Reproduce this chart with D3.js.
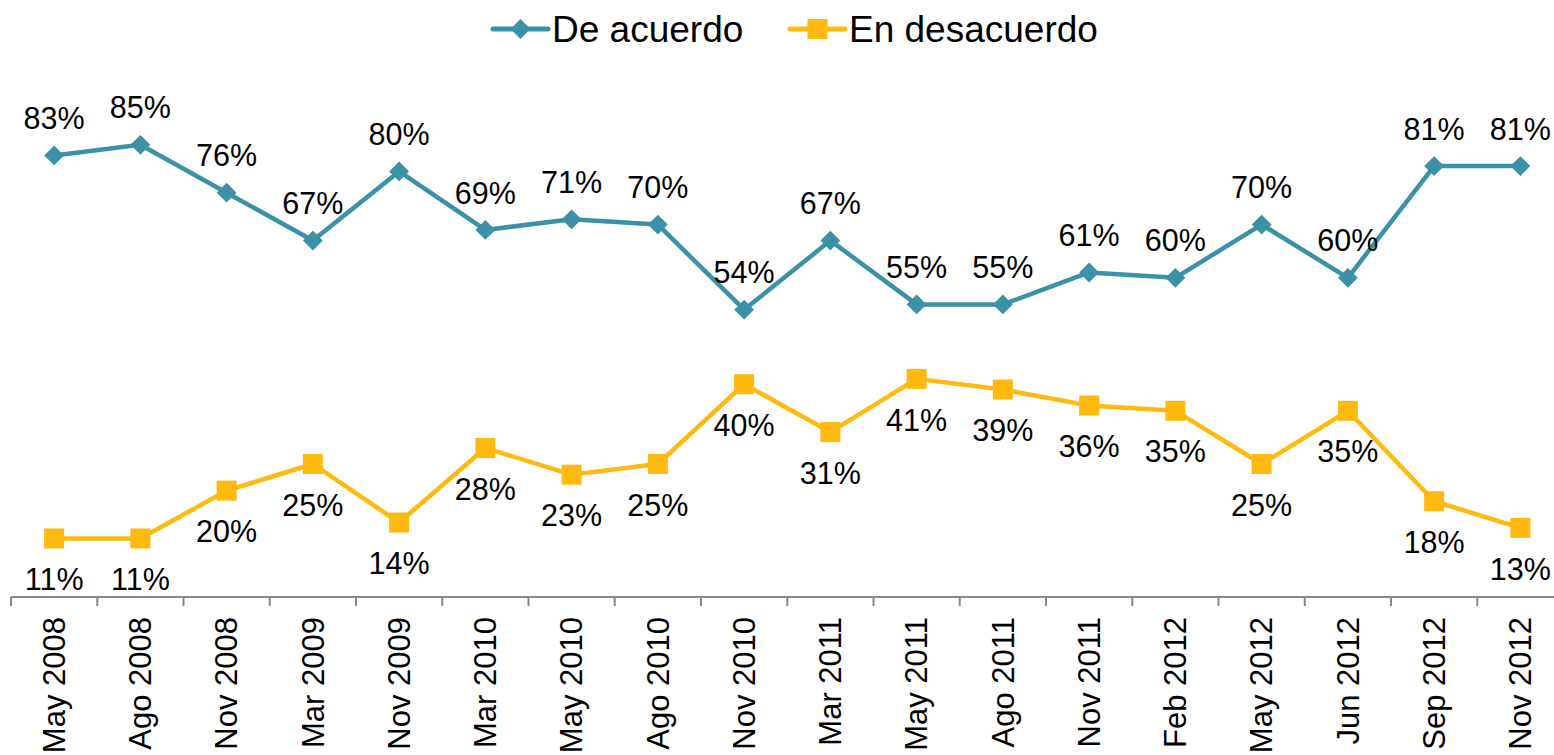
<!DOCTYPE html>
<html>
<head>
<meta charset="utf-8">
<script src="https://cdn.jsdelivr.net/npm/d3@7"></script>
<style>
  body { margin: 0; background: #fff; }
  text { font-family: "Liberation Sans", Arial, sans-serif; }
</style>
</head>
<body>
<div id="chart"></div>
<script>
// categories and series
const categories = ["May 2008", "Ago 2008", "Nov 2008", "Mar 2009", "Nov 2009", "Mar 2010", "May 2010", "Ago 2010", "Nov 2010",
  "Mar 2011", "May 2011", "Ago 2011", "Nov 2011", "Feb 2012", "May 2012", "Jun 2012", "Sep 2012", "Nov 2012"]
const deAcuerdo = [83, 85, 76, 67, 80, 69, 71, 70, 54, 67, 55, 55, 61, 60, 70, 60, 81, 81]
const enDesacuerdo = [11, 11, 20, 25, 14, 28, 23, 25, 40, 31, 41, 39, 36, 35, 25, 35, 18, 13]
const seriesNames = ["De acuerdo", "En desacuerdo"]

const width = 1554, height = 755
const teal = "#3A91A8", yellow = "#FFB90F"

const svg = d3.select("#chart").append("svg")
  .attr("width", width).attr("height", height)

//// scales
let x = d3.scaleBand().domain(categories).range([11, 11 + 18 * 86.25]).padding(0)
let y = d3.scaleLinear().domain([0, 100]).range([597, 65])
let cx = d => x(d) + x.bandwidth() / 2

//// axis line + ticks at band edges
let axisG = svg.append("g")
axisG.append("line")
  .attr("x1", 11).attr("x2", width).attr("y1", y(0)).attr("y2", y(0))
  .attr("stroke", "#898989").attr("stroke-width", 2)
axisG.selectAll(".tk").data(categories).enter().append("line")
  .attr("x1", d => x(d)).attr("x2", d => x(d))
  .attr("y1", y(0)).attr("y2", y(0) + 9)
  .attr("stroke", "#898989").attr("stroke-width", 2)
axisG.selectAll(".lbl").data(categories).enter().append("text")
  .attr("transform", d => `translate(${cx(d)},${y(0) + 20}) rotate(-90)`)
  .attr("text-anchor", "end")
  .attr("dy", "0.35em")
  .attr("font-size", 31)
  .attr("fill", "#000")
  .text(d => d)

//// lines
let rows = categories.map((c, i) => ({ c: c, a: deAcuerdo[i], b: enDesacuerdo[i] }))
let lineA = d3.line().x(d => cx(d.c)).y(d => y(d.a))
let lineB = d3.line().x(d => cx(d.c)).y(d => y(d.b))

svg.append("path").datum(rows)
  .attr("fill", "none").attr("stroke", teal).attr("stroke-width", 4.5)
  .attr("stroke-linejoin", "round").attr("d", lineA)
svg.append("path").datum(rows)
  .attr("fill", "none").attr("stroke", yellow).attr("stroke-width", 4.5)
  .attr("stroke-linejoin", "round").attr("d", lineB)

// markers
let diamond = d3.symbol().type(d3.symbolSquare).size(14 * 14)
svg.selectAll(".mA").data(rows).enter().append("path")
  .attr("d", diamond)
  .attr("transform", d => `translate(${cx(d.c)},${y(d.a)}) rotate(45)`)
  .attr("fill", teal)
svg.selectAll(".mB").data(rows).enter().append("rect")
  .attr("x", d => cx(d.c) - 10).attr("y", d => y(d.b) - 10)
  .attr("width", 20).attr("height", 20)
  .attr("fill", yellow)

// data labels
svg.selectAll(".lA").data(rows).enter().append("text")
  .attr("x", d => cx(d.c)).attr("y", d => y(d.a) - 37)
  .attr("text-anchor", "middle").attr("dy", "0.35em")
  .attr("font-size", 30.5).attr("fill", "#000")
  .text(d => d.a + "%")
svg.selectAll(".lB").data(rows).enter().append("text")
  .attr("x", d => cx(d.c)).attr("y", d => y(d.b) + 41)
  .attr("text-anchor", "middle").attr("dy", "0.35em")
  .attr("font-size", 30.5).attr("fill", "#000")
  .text(d => d.b + "%")

//// legend
let legend = svg.append("g")
let items = [
  { name: seriesNames[0], color: teal, x0: 493, shape: "diamond" },
  { name: seriesNames[1], color: yellow, x0: 790, shape: "square" }
]
items.forEach(it => {
  let g = legend.append("g").attr("transform", `translate(${it.x0},29)`)
  g.append("line").attr("x1", 0).attr("x2", 55).attr("y1", 0).attr("y2", 0)
    .attr("stroke", it.color).attr("stroke-width", 5).attr("stroke-linecap", "round")
  if (it.shape == "diamond") {
    g.append("path").attr("d", diamond).attr("transform", "translate(27.5,0) rotate(45)").attr("fill", it.color)
  } else {
    g.append("rect").attr("x", 17.5).attr("y", -10).attr("width", 20).attr("height", 20).attr("fill", it.color)
  }
  g.append("text").attr("x", 59).attr("y", 0).attr("dy", "0.35em")
    .attr("font-size", 37).attr("fill", "#000").text(it.name)
})
</script>
</body>
</html>
